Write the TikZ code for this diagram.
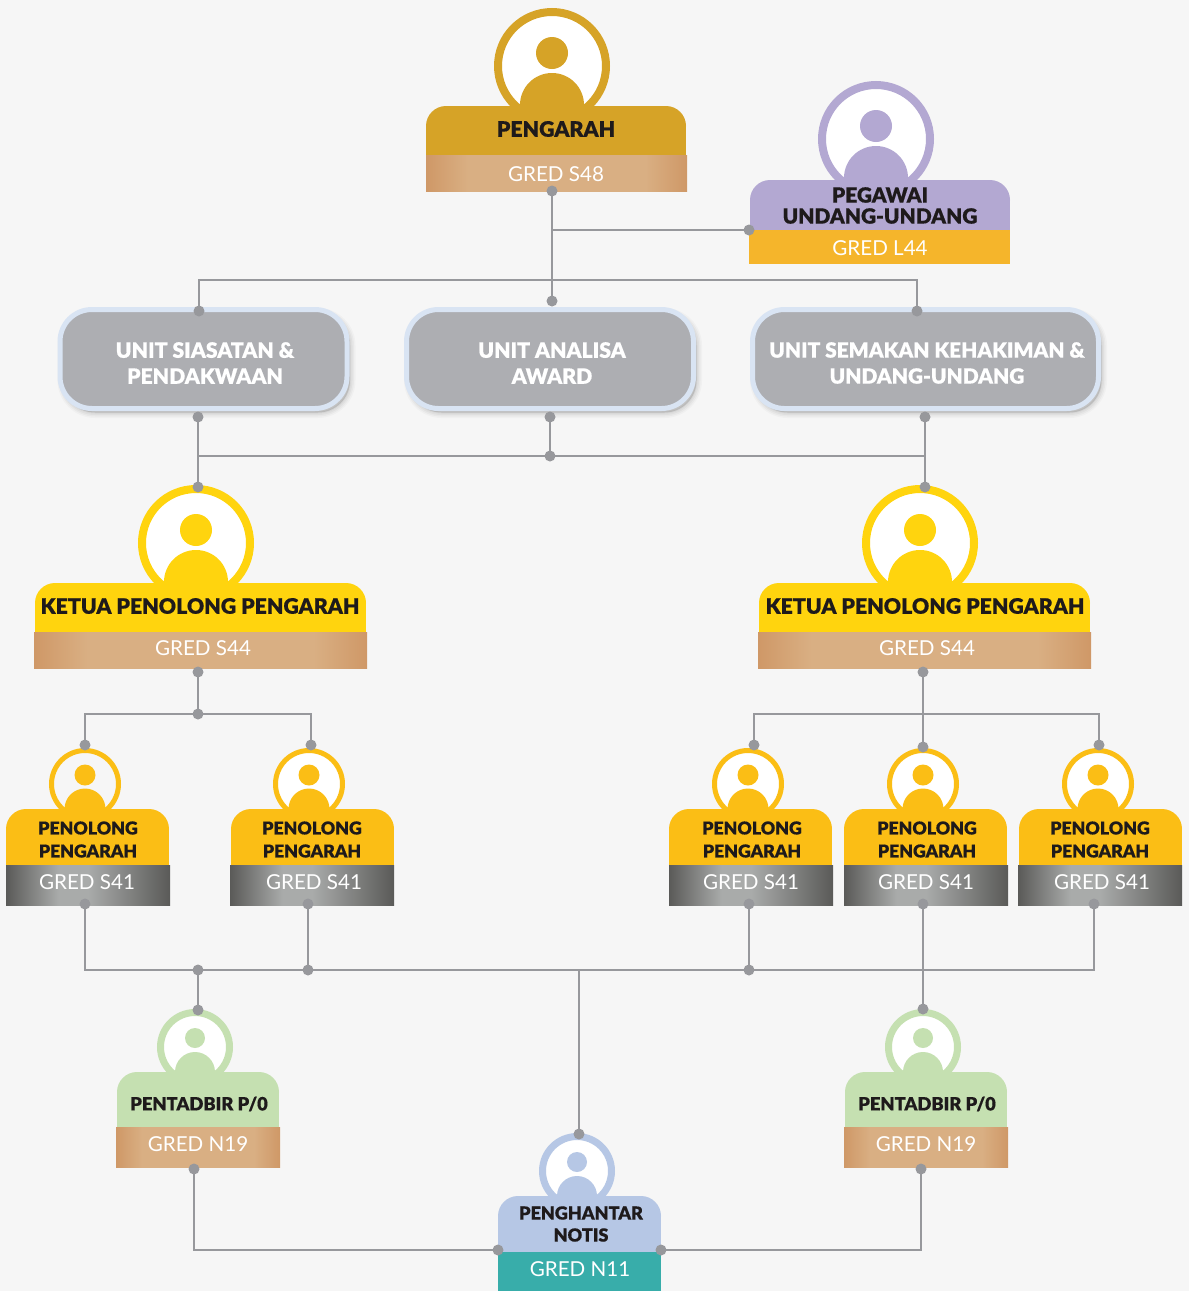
\documentclass[tikz,border=0pt]{standalone}
\usepackage{fontspec}
\newfontfamily\hdfont[FakeBold=0.5]{Lato Black}
\newfontfamily\grfont{Lato}
\usetikzlibrary{calc}
\definecolor{bgc}{HTML}{F6F6F6}
\definecolor{linec}{HTML}{97989C}
\definecolor{ink}{HTML}{1E1A1B}
\definecolor{goldc}{HTML}{D6A327}
\definecolor{purp}{HTML}{B3A8D2}
\definecolor{amber}{HTML}{F5B52B}
\definecolor{yel}{HTML}{FFD40E}
\definecolor{orng}{HTML}{FBBE15}
\definecolor{grn}{HTML}{C5E0B1}
\definecolor{blu}{HTML}{B6C7E5}
\definecolor{teal1}{HTML}{38ADAA}
\definecolor{unitf}{HTML}{ADAEB2}
\definecolor{unitb}{HTML}{D9E4F3}
\definecolor{tanA}{HTML}{CF9867}
\definecolor{tanB}{HTML}{D9AF83}
\definecolor{gryA}{HTML}{5A5A58}
\definecolor{gryB}{HTML}{A9ABAA}
\pgfdeclarehorizontalshading{tanband}{100bp}{color(0bp)=(tanA); color(25bp)=(tanA); color(33bp)=(tanB); color(67bp)=(tanB); color(75bp)=(tanA); color(100bp)=(tanA)}
\pgfdeclarehorizontalshading{greyband}{100bp}{color(0bp)=(gryA); color(25bp)=(gryA); color(41bp)=(gryB); color(50bp)=(gryB); color(75bp)=(gryA); color(100bp)=(gryA)}
\tikzset{
  x=1pt,y=-1pt,
  title/.style={text=ink,font=\hdfont\fontsize{21.3}{22}\selectfont,align=center,inner sep=0pt},
  titlesm/.style={text=ink,font=\hdfont\fontsize{17.7}{23}\selectfont,align=center,inner sep=0pt},
  gred/.style={text=white,font=\grfont\fontsize{20.6}{22}\selectfont,inner sep=0pt},
  unittext/.style={text=white,font=\hdfont\fontsize{21.2}{26}\selectfont,align=center,inner sep=0pt},
  conn/.style={draw=linec,line width=2.9pt},
  dotn/.style={circle,fill=linec,minimum size=11pt,inner sep=0pt},
  unit/.style={draw=unitb,fill=unitf,line width=5pt,rounded corners=32pt,minimum height=99pt,inner sep=0pt,
    preaction={draw=black,draw opacity=.025,fill=black,fill opacity=.025,line width=11pt,transform canvas={shift={(3pt,-4pt)}}},
    preaction={draw=black,draw opacity=.03,fill=black,fill opacity=.03,line width=8pt,transform canvas={shift={(3pt,-4pt)}}},
    preaction={draw=black,draw opacity=.035,fill=black,fill opacity=.035,line width=5pt,transform canvas={shift={(3pt,-4pt)}}},
    preaction={draw=black,draw opacity=.04,fill=black,fill opacity=.04,line width=2pt,transform canvas={shift={(3pt,-4pt)}}}},
}
% #1 interior, #2 centre, #3 colour, #4 R, #5 ring, #6 head dy, #7 head r, #8 body dy, #9 body r
\newcommand\avatar[9][white]{%
  \begin{scope}[shift={#2}]
    \draw[#3,fill=#1,line width=#5pt] (0,0) circle[radius=#4-#5/2];
    \fill[#3] (0,#6) circle[radius=#7];
    \fill[#3] (0,#8) circle[radius=#9];
  \end{scope}}
\newcommand\bigavatar[2]{\avatar{#1}{#2}{58}{8}{-13}{16}{39}{32}}
\newcommand\medavatar[3][white]{\avatar[#1]{#2}{#3}{36}{5}{-9}{10.5}{25}{20.5}}
\newcommand\smlavatar[2]{\avatar{#1}{#2}{38}{7}{-9}{10}{25}{20}}
% #1 colour, #2 x1, #3 x2, #4 y1, #5 y2
\newcommand\cardtop[5]{%
  \fill[#1,rounded corners=20pt] (#2,#4+40) -- (#2,#4) -- (#3,#4) -- (#3,#4+40) -- cycle;
  \fill[#1] (#2,#4+22) rectangle (#3,#5);}
\begin{document}
\begin{tikzpicture}
\useasboundingbox (0,0) rectangle (1189,1291);
\fill[bgc] (0,0) rectangle (1189,1291);

% --- cards ---
\bigavatar{(552,66)}{goldc}
\cardtop{goldc}{426}{686}{106}{155}
\fill[shading=tanband] (426,155) rectangle (687,191);
\node[title] (pengarah) at (556,129) {PENGARAH};
\node[gred] (g48) at (556,174) {GRED S48};

\bigavatar{(876,139)}{purp}
\cardtop{purp}{750}{1010}{180}{230}
\fill[amber] (749,230) rectangle (1010,264);
\node[title,font=\hdfont\fontsize{20.9}{21}\selectfont] (pegawai) at (880,205.5) {PEGAWAI\\UNDANG-UNDANG};
\node[gred] (g44l) at (880,248) {GRED L44};

\node[unit,minimum width=287pt] (u1) at (203.5,359) {};
\node[unit,minimum width=287pt] (u2) at (550,359) {};
\node[unit,minimum width=346pt] (u3) at (925.5,359) {};
\node[unittext] (u1t) at (205,363) {UNIT SIASATAN \&\\PENDAKWAAN};
\node[unittext] (u2t) at (552,363) {UNIT ANALISA\\AWARD};
\node[unittext,font=\hdfont\fontsize{20.9}{26}\selectfont] (u3t) at (927,363) {UNIT SEMAKAN KEHAKIMAN \&\\UNDANG-UNDANG};

\bigavatar{(196,543)}{yel}
\cardtop{yel}{35}{366}{583}{632}
\fill[shading=tanband] (34,632) rectangle (367,668);
\node[title] (kpp1) at (200,606) {KETUA PENOLONG PENGARAH};
\node[gred] (g44a) at (203,648) {GRED S44};

\bigavatar{(920,543)}{yel}
\cardtop{yel}{759}{1090}{583}{632}
\fill[shading=tanband] (758,632) rectangle (1091,668);
\node[title] (kpp2) at (925,606) {KETUA PENOLONG PENGARAH};
\node[gred] (g44b) at (927,648) {GRED S44};

\medavatar[bgc]{(85,784)}{orng}
\cardtop{orng}{6}{169}{809}{865}
\fill[shading=greyband] (6,865) rectangle (170,905);
\node[titlesm] (pp1) at (88,839.5) {PENOLONG\\PENGARAH};
\node[gred] (g41a) at (87,882) {GRED S41};

\medavatar{(309,784)}{orng}
\cardtop{orng}{231}{394}{809}{865}
\fill[shading=greyband] (230,865) rectangle (394,905);
\node[titlesm] (pp2) at (312,839.5) {PENOLONG\\PENGARAH};
\node[gred] (g41b) at (314,882) {GRED S41};

\medavatar{(748,784)}{orng}
\cardtop{orng}{669}{832}{809}{865}
\fill[shading=greyband] (669,865) rectangle (833,905);
\node[titlesm] (pp3) at (752,839.5) {PENOLONG\\PENGARAH};
\node[gred] (g41c) at (751,882) {GRED S41};

\medavatar{(923,784)}{orng}
\cardtop{orng}{844}{1007}{809}{865}
\fill[shading=greyband] (844,865) rectangle (1008,905);
\node[titlesm] (pp4) at (927,839.5) {PENOLONG\\PENGARAH};
\node[gred] (g41d) at (926,882) {GRED S41};

\medavatar{(1098,784)}{orng}
\cardtop{orng}{1019}{1182}{809}{865}
\fill[shading=greyband] (1018,865) rectangle (1182,905);
\node[titlesm] (pp5) at (1100,839.5) {PENOLONG\\PENGARAH};
\node[gred] (g41e) at (1102,882) {GRED S41};

\smlavatar{(195,1047)}{grn}
\cardtop{grn}{117}{279}{1072}{1127}
\fill[shading=tanband] (116,1127) rectangle (280,1167);
\node[titlesm,font=\hdfont\fontsize{18.3}{23}\selectfont] (pt1) at (199,1104) {PENTADBIR P/0};
\node[gred] (g19a) at (198,1144) {GRED N19};

\smlavatar{(923,1047)}{grn}
\cardtop{grn}{845}{1007}{1072}{1127}
\fill[shading=tanband] (844,1127) rectangle (1008,1167);
\node[titlesm,font=\hdfont\fontsize{18.3}{23}\selectfont] (pt2) at (927,1104) {PENTADBIR P/0};
\node[gred] (g19b) at (926,1144) {GRED N19};

\smlavatar{(577,1171)}{blu}
\cardtop{blu}{498}{661}{1196}{1252}
\fill[teal1] (498,1252) rectangle (661,1291);
\node[titlesm,font=\hdfont\fontsize{18}{22}\selectfont] (ph) at (581,1224) {PENGHANTAR\\NOTIS};
\node[gred] (g11) at (580,1269) {GRED N11};

% --- dots ---
\foreach \n/\p in {a/{552,191},b/{552,301},c/{749,230},d/{199,311},e/{917,311},
  f/{198,417},g/{198,487},h/{550,417},i/{550,456},j/{925,417},k/{925,487},
  l/{198,672},m/{198,714},n/{85,745},o/{311,745},
  p/{923,672},q/{923,747},r/{754,745},s/{1099,745},
  t/{85,904},u/{308,904},v/{749,904},w/{923,904},x/{1094,904},
  y/{198,970},z/{308,970},aa/{749,970},ab/{923,1009},ac/{198,1010},ad/{579,1134},
  ae/{194,1169},af/{921,1169},ag/{498,1250},ah/{661,1250}}
  \node[dotn] (\n) at (\p) {};

% --- junctions ---
\coordinate (j1) at (552,230);
\coordinate (j2) at (552,280);
\coordinate (j3) at (198,456);
\coordinate (j4) at (925,456);
\coordinate (j5) at (579,970);
\coordinate (j6) at (923,714);
\coordinate (j7) at (85,970);
\coordinate (j8) at (1094,970);

% --- connectors ---
\draw[conn] (a.center) -- (b.center);
\draw[conn] (j1) -- (c.center);
\draw[conn] (d.center) |- (j2) -| (e.center);
\draw[conn] (f.center) -- (g.center);
\draw[conn] (h.center) -- (i.center);
\draw[conn] (j.center) -- (k.center);
\draw[conn] (j3) -- (i.center) -- (j4);
\draw[conn] (l.center) -- (m.center);
\draw[conn] (n.center) |- (m.center) -| (o.center);
\draw[conn] (p.center) -- (q.center);
\draw[conn] (r.center) |- (j6) -| (s.center);
\draw[conn] (t.center) -- (j7) -- (j8) -- (x.center);
\draw[conn] (u.center) -- (z.center);
\draw[conn] (v.center) -- (aa.center);
\draw[conn] (w.center) -- (ab.center);
\draw[conn] (y.center) -- (ac.center);
\draw[conn] (j5) -- (ad.center);
\draw[conn] (ae.center) |- (ag.center);
\draw[conn] (af.center) |- (ah.center);
\end{tikzpicture}
\end{document}
